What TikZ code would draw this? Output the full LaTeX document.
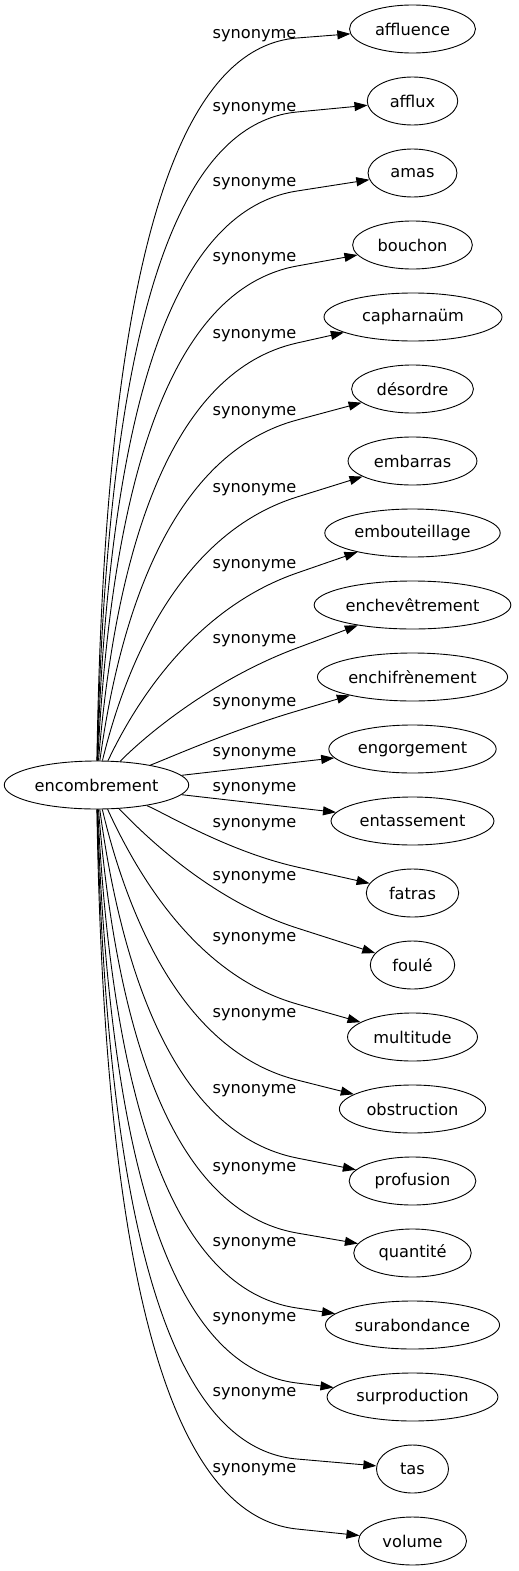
\documentclass[tikz,border=0pt]{standalone}
\usepackage{fontspec}
\setmainfont{DejaVu Sans}
\usetikzlibrary{shapes.geometric,arrows.meta,calc}
\AtBeginDocument{\fontsize{16.2pt}{19pt}\selectfont}
\tikzset{
  ell/.style={draw, ellipse, line width=0.9pt, inner sep=0pt, minimum height=48pt,
    minimum width={max(72,1.2*(width("#1")+30))}},
  lbl/.style={inner sep=0pt},
  syn/.style={line width=0.9pt, -{Triangle[length=13pt,width=9pt]}},
}
\begin{document}
\begin{tikzpicture}[x=1pt,y=-1pt]
\useasboundingbox (0,0) rectangle (519,1571);
\node[ell=encombrement] (src) at (96.5,785) {encombrement};
\node[ell=affluence] (t0) at (412.5,29) {affluence};
\node[ell=afflux] (t1) at (412.5,101) {afflux};
\node[ell=amas] (t2) at (412.5,173) {amas};
\node[ell=bouchon] (t3) at (412.5,245) {bouchon};
\node[ell=capharnaüm, minimum width=178pt] (t4) at (413,317) {capharnaüm};
\node[ell=désordre] (t5) at (412.5,389) {désordre};
\node[ell=embarras] (t6) at (412.5,461) {embarras};
\node[ell=embouteillage] (t7) at (412.5,533) {embouteillage};
\node[ell=enchevêtrement] (t8) at (412.5,605) {enchevêtrement};
\node[ell=enchifrènement] (t9) at (412.5,677) {enchifrènement};
\node[ell=engorgement] (t10) at (412.5,749) {engorgement};
\node[ell=entassement] (t11) at (412.5,821) {entassement};
\node[ell=fatras] (t12) at (412.5,893) {fatras};
\node[ell=foulé] (t13) at (412.5,965) {foulé};
\node[ell=multitude] (t14) at (412.5,1037) {multitude};
\node[ell=obstruction] (t15) at (412.5,1109) {obstruction};
\node[ell=profusion] (t16) at (412.5,1181) {profusion};
\node[ell=quantité] (t17) at (412.5,1253) {quantité};
\node[ell=surabondance] (t18) at (412.5,1325) {surabondance};
\node[ell=surproduction] (t19) at (412.5,1397) {surproduction};
\node[ell=tas] (t20) at (412.5,1469) {tas};
\node[ell=volume] (t21) at (412.5,1541) {volume};
\foreach \i/\ly in {0/35,1/108,2/183,3/258,4/335,5/412,6/489,7/565,8/640,9/703,10/753,
  11/788,12/824,13/877,14/938,15/1014,16/1090,17/1168,18/1243,19/1318,20/1393,21/1469}{
  \node[lbl] (l\i) at (254.5,\ly+1) {synonyme};
}
\foreach \i/\py/\a/\b/\ltwo in {
  0/38/0.036/0.60/140, 1/112/0.048/0.60/138, 2/191/0.059/0.59/135, 3/266/0.075/0.58/130,
  4/343/0.101/0.56/125, 5/420/0.1325/0.53/120, 6/497/0.175/0.50/110, 7/573/0.225/0.45/100,
  8/648/0.272/0.40/85, 9/711/0.333/0.333/71,
  12/867/0.333/0.333/71, 13/928/0.272/0.40/85, 14/1004/0.225/0.45/100, 15/1080/0.175/0.50/110,
  16/1158/0.1325/0.53/120, 17/1233/0.101/0.56/125, 18/1308/0.075/0.58/130, 19/1383/0.059/0.59/135,
  20/1459/0.048/0.60/138, 21/1529/0.036/0.60/140}{
  \coordinate (p\i) at (297,\py);
  \draw[syn] (src) .. controls ($(src)+({\a*200.5},{\b*(\py-785)})$) and ($(p\i)!-\ltwo pt!(t\i)$) .. (p\i) -- (t\i);
}
\draw[syn] (src) -- (t10);
\draw[syn] (src) -- (t11);
\end{tikzpicture}
\end{document}
